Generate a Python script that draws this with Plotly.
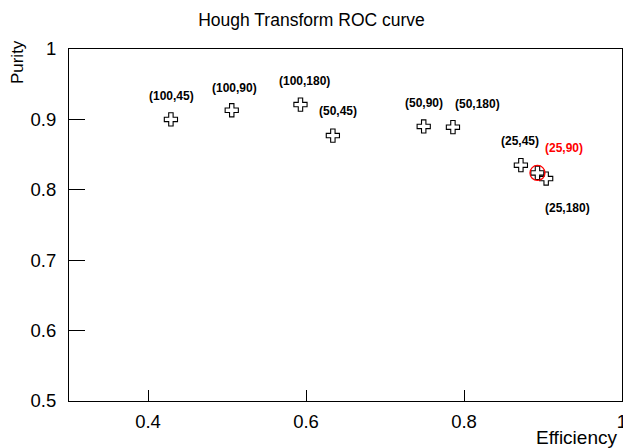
import plotly.graph_objects as go

# Hough transform working points: (bin size, angle bins) -> efficiency / purity
labels = ["(100,45)", "(100,90)", "(100,180)", "(50,45)", "(50,90)",
          "(50,180)", "(25,45)", "(25,90)", "(25,180)"]
efficiency = [0.429, 0.506, 0.593, 0.634, 0.749, 0.786, 0.872, 0.893, 0.904]
purity = [0.900, 0.913, 0.921, 0.877, 0.890, 0.889, 0.835, 0.824, 0.816]

# where each working-point label is written (data coordinates)
label_x = [0.430, 0.510, 0.598, 0.641, 0.749, 0.817, 0.871, 0.927, 0.931]
label_y = [0.933, 0.944, 0.955, 0.912, 0.923, 0.922, 0.870, 0.859, 0.774]
label_color = ["black"] * 7 + ["red"] + ["black"]

# chosen working point
chosen = "(25,90)"

x_ticks = [0.4, 0.6, 0.8, 1.0]
x_tick_text = ["0.4", "0.6", "0.8", "1"]
y_ticks = [0.5, 0.6, 0.7, 0.8, 0.9, 1.0]
y_tick_text = ["0.5", "0.6", "0.7", "0.8", "0.9", "1"]

FONT = "Liberation Sans, Arial, sans-serif"

fig = go.Figure()

fig.add_trace(go.Scatter(
    x=efficiency, y=purity, mode="markers",
    marker=dict(symbol="cross-open", size=11, color="black",
                line=dict(color="black", width=1.1)),
    hoverinfo="skip", showlegend=False,
))

ci = labels.index(chosen)
fig.add_trace(go.Scatter(
    x=[efficiency[ci]], y=[purity[ci]], mode="markers",
    marker=dict(symbol="circle-open", size=15, color="red",
                line=dict(color="red", width=1.3)),
    hoverinfo="skip", showlegend=False,
))

for txt, lx, ly, col in zip(labels, label_x, label_y, label_color):
    fig.add_annotation(x=lx, y=ly, text=f"<b>{txt}</b>", showarrow=False,
                       xanchor="center", yanchor="middle",
                       font=dict(family=FONT, size=12, color=col))

axis_common = dict(
    showline=True, linecolor="black", linewidth=1, mirror=True,
    ticks="inside", tickcolor="black", tickwidth=1,
    showgrid=False, zeroline=False, automargin=False,
    tickfont=dict(family=FONT, size=18.5, color="black"),
    ticklabeloverflow="allow",
)

fig.update_xaxes(range=[0.3, 1.0], tickvals=x_ticks, ticktext=x_tick_text,
                 ticklen=11, ticklabelstandoff=4, **axis_common)
fig.update_yaxes(range=[0.5, 1.0], tickvals=y_ticks, ticktext=y_tick_text,
                 ticklen=16, ticklabelstandoff=8, **axis_common)

fig.add_annotation(xref="paper", yref="paper", x=0.995, y=-0.103,
                   text="Efficiency", showarrow=False,
                   xanchor="right", yanchor="middle",
                   font=dict(family=FONT, size=19, color="black"))
fig.add_annotation(xref="paper", yref="paper", x=-0.094, y=1.031,
                   text="Purity", showarrow=False, textangle=-90,
                   xanchor="center", yanchor="top",
                   font=dict(family=FONT, size=17, color="black"))

fig.update_layout(
    width=623, height=448,
    margin=dict(l=69, r=1, t=49, b=47, autoexpand=False),
    paper_bgcolor="white", plot_bgcolor="white",
    title=dict(text="Hough Transform ROC curve", x=0.5, xanchor="center",
               xref="container", y=1 - 20 / 448, yanchor="middle", yref="container",
               font=dict(family=FONT, size=17.5, color="black")),
)

fig.write_html("out.html", config={"displayModeBar": False})
